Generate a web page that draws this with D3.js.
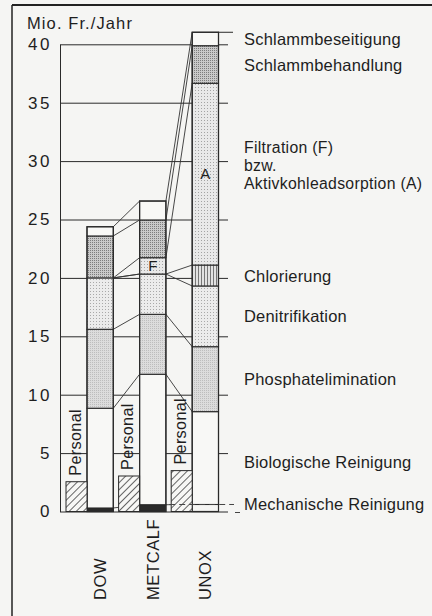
<!DOCTYPE html>
<html>
<head>
<meta charset="utf-8">
<script src="https://cdn.jsdelivr.net/npm/d3@7"></script>
<style>
  html, body { margin: 0; padding: 0; background: #f5f5f3; }
  svg { display: block; }
  text { font-family: "Liberation Sans", Arial, sans-serif; fill: #1e1e1e; }
</style>
</head>
<body>
<svg id="chart" width="432" height="616"></svg>
<script>
// ---------------- data ----------------
const categories = ["DOW", "METCALF", "UNOX"];
const components = [
  "Mechanische Reinigung",
  "Biologische Reinigung",
  "Phosphatelimination",
  "Denitrifikation",
  "Chlorierung",
  "Filtration / Aktivkohleadsorption",
  "Schlammbehandlung",
  "Schlammbeseitigung"
];
// cost per component (Mio. Fr./Jahr), bottom to top
const dowCosts     = [0.30, 8.54, 6.76, 4.40, 0.00, 0.00, 3.59, 0.79];
const metcalfCosts = [0.58, 11.17, 5.13, 3.45, 0.00, 1.40, 3.23, 1.62];
const unoxCosts    = [0.60, 7.95, 5.56, 5.20, 1.79, 15.56, 3.22, 1.15];
const personalCosts = [2.55, 3.04, 3.50];
const filterMarks = ["", "F", "A"];
const componentLabels = [
  ["Mechanische Reinigung"],
  ["Biologische Reinigung"],
  ["Phosphatelimination"],
  ["Denitrifikation"],
  ["Chlorierung"],
  ["Filtration (F)", "bzw.", "Aktivkohleadsorption (A)"],
  ["Schlammbehandlung"],
  ["Schlammbeseitigung"]
];
const yTicks = [0, 5, 10, 15, 20, 25, 30, 35, 40];
const yTitle = "Mio. Fr./Jahr";
const personalLabel = "Personal";

// ---------------- build table ----------------
const costRows = [dowCosts, metcalfCosts, unoxCosts];
const table = categories.map((c, i) => {
  const row = { cat: c };
  components.forEach((k, j) => row[k] = costRows[i][j]);
  return row;
});
const series = d3.stack().keys(components)(table);

// ---------------- layout ----------------
const svg = d3.select("#chart");
const y = d3.scaleLinear().domain([0, 40]).range([511.5, 44.3]);
const x = d3.scaleBand().domain(categories).range([87, 218.5]).paddingInner(0.5).paddingOuter(0);
const bw = x.bandwidth();
const personalW = 21;
const axisX = 60, gridRight = 228;

svg.append("rect").attr("width", 432).attr("height", 616).attr("fill", "#f5f5f3");

// ---------------- patterns ----------------
const defs = svg.append("defs");
function dotPattern(id, size, bg, dot, pts) {
  const p = defs.append("pattern").attr("id", id).attr("patternUnits", "userSpaceOnUse")
    .attr("width", size).attr("height", size);
  p.append("rect").attr("width", size).attr("height", size).attr("fill", bg);
  pts.forEach(([px, py]) => p.append("rect").attr("x", px).attr("y", py)
    .attr("width", 1).attr("height", 1).attr("fill", dot));
}
dotPattern("phos", 2, "#dcdcdc", "#bdbdbd", [[0, 0]]);
dotPattern("denit", 3, "#ececec", "#a9a9a9", [[0, 0]]);
dotPattern("filt", 3, "#e9e9e9", "#a3a3a3", [[0, 0]]);
dotPattern("treat", 2, "#c9c9c9", "#7c7c7c", [[0, 0]]);
(function () {
  const p = defs.append("pattern").attr("id", "chlor").attr("patternUnits", "userSpaceOnUse")
    .attr("width", 3).attr("height", 3);
  p.append("rect").attr("width", 3).attr("height", 3).attr("fill", "#e2e2e2");
  p.append("rect").attr("width", 1).attr("height", 3).attr("fill", "#777");
  const h = defs.append("pattern").attr("id", "hatch").attr("patternUnits", "userSpaceOnUse")
    .attr("width", 5).attr("height", 5).attr("patternTransform", "rotate(45)");
  h.append("rect").attr("width", 5).attr("height", 5).attr("fill", "#f7f7f5");
  h.append("line").attr("x1", 0.5).attr("x2", 0.5).attr("y1", 0).attr("y2", 5)
    .attr("stroke", "#555").attr("stroke-width", 0.9);
})();
const fills = ["#2a2a2a", "#f8f8f6", "url(#phos)", "url(#denit)", "url(#chlor)", "url(#filt)", "url(#treat)", "#f8f8f6"];

// ---------------- frame ----------------
svg.append("line").attr("x1", 12).attr("x2", 432).attr("y1", 5).attr("y2", 5)
  .attr("stroke", "#222").attr("stroke-width", 2);
svg.append("line").attr("x1", 12).attr("x2", 12).attr("y1", 5).attr("y2", 616)
  .attr("stroke", "#222").attr("stroke-width", 1.5);

// ---------------- axis + grid ----------------
const axis = d3.axisLeft(y).tickValues(yTicks).tickSizeInner(-(gridRight - axisX)).tickSizeOuter(0).tickPadding(8);
const gAxis = svg.append("g").attr("transform", `translate(${axisX},0)`).call(axis);
gAxis.selectAll("path, line").attr("stroke", "#2a2a2a").attr("stroke-width", 1);
gAxis.selectAll("text").attr("font-size", 17).attr("letter-spacing", 2.6)
  .attr("font-family", "'Liberation Sans', Arial, sans-serif").attr("fill", "#1e1e1e");

svg.append("text").attr("x", 27).attr("y", 29).attr("font-size", 16.5).attr("letter-spacing", 1.1)
  .text(yTitle);

// ---------------- connecting lines ----------------
const tops = categories.map((c, i) => series.map(s => s[i][1]));
const gConn = svg.append("g").attr("stroke", "#333").attr("stroke-width", 0.9).attr("fill", "none");
for (let i = 0; i < categories.length - 1; i++) {
  tops[i].forEach((v, k) => {
    gConn.append("line")
      .attr("x1", x(categories[i]) + bw).attr("y1", y(v))
      .attr("x2", x(categories[i + 1])).attr("y2", y(tops[i + 1][k]));
  });
}

// ---------------- stacked bars ----------------
const gBars = svg.append("g");
series.forEach((s, k) => {
  gBars.selectAll(null).data(s).join("rect")
    .filter(d => d[1] - d[0] > 0)
    .attr("x", d => x(d.data.cat))
    .attr("width", bw)
    .attr("y", d => y(d[1]))
    .attr("height", d => y(d[0]) - y(d[1]))
    .attr("fill", d => (k === 0 && d.data.cat === "UNOX") ? "none" : fills[k])
    .attr("stroke", d => (k === 0 && d.data.cat === "UNOX") ? "none" : "#2a2a2a")
    .attr("stroke-width", 1.1);
});
// overall outline of each bar
gBars.selectAll(null).data(categories).join("rect")
  .attr("x", c => x(c)).attr("width", bw)
  .attr("y", (c, i) => y(tops[i][tops[i].length - 1]))
  .attr("height", (c, i) => y(0) - y(tops[i][tops[i].length - 1]))
  .attr("fill", "none").attr("stroke", "#2a2a2a").attr("stroke-width", 1.2);

// right-hand tick at the last bar top
const lastI = categories.length - 1;
svg.append("line")
  .attr("x1", x(categories[lastI]) + bw).attr("x2", 233)
  .attr("y1", y(tops[lastI][tops[lastI].length - 1])).attr("y2", y(tops[lastI][tops[lastI].length - 1]))
  .attr("stroke", "#2a2a2a").attr("stroke-width", 1);

// F / A marks
const filtIdx = 5;
categories.forEach((c, i) => {
  if (!filterMarks[i]) return;
  const seg = series[filtIdx][i];
  svg.append("text").attr("x", x(c) + bw / 2).attr("y", y((seg[0] + seg[1]) / 2) + 5)
    .attr("text-anchor", "middle").attr("font-size", 15).text(filterMarks[i]);
});

// ---------------- Personal bars ----------------
const gPers = svg.append("g");
gPers.selectAll("rect").data(personalCosts).join("rect")
  .attr("x", (d, i) => x(categories[i]) - personalW)
  .attr("width", personalW)
  .attr("y", d => y(d))
  .attr("height", d => y(0) - y(d))
  .attr("fill", "url(#hatch)").attr("stroke", "#2a2a2a").attr("stroke-width", 1);
gPers.selectAll("text").data(personalCosts).join("text")
  .attr("transform", (d, i) => `translate(${x(categories[i]) - personalW / 2 + 4},${y(d) - 6}) rotate(-90)`)
  .attr("font-size", 16.3).attr("letter-spacing", 0.3).text(personalLabel);

// ---------------- mechanische (UNOX dashed) ----------------
const mechTop = series[0][lastI][1];
svg.append("line").attr("x1", x(categories[lastI]) - personalW - 2).attr("x2", 234)
  .attr("y1", y(mechTop)).attr("y2", y(mechTop))
  .attr("stroke", "#444").attr("stroke-width", 1).attr("stroke-dasharray", "6,4");
svg.append("line").attr("x1", 235).attr("x2", 240).attr("y1", y(0) + 1).attr("y2", y(0) + 1)
  .attr("stroke", "#444").attr("stroke-width", 1);

// ---------------- category labels ----------------
svg.selectAll(".cat").data(categories).join("text").attr("class", "cat")
  .attr("transform", c => `translate(${x(c) + bw / 2 + 6},600) rotate(-90)`)
  .attr("font-size", 16.5).attr("letter-spacing", 0.6).text(c => c);

// ---------------- component labels (at UNOX segments) ----------------
const gLab = svg.append("g");
componentLabels.forEach((lines, k) => {
  const seg = series[k][lastI];
  let mid = k === 0 ? seg[1] : (k === 1 ? seg[1] / 2 : (seg[0] + seg[1]) / 2);
  const multi = lines.length > 1;
  const yc = y(mid) - (multi ? 9 : 0);
  const step = 18;
  lines.forEach((t, j) => {
    gLab.append("text").attr("x", 244)
      .attr("y", yc + 6 + (j - (lines.length - 1) / 2) * step)
      .attr("font-size", multi ? 15.8 : 16.5).attr("letter-spacing", multi ? 0.3 : 0.2).text(t);
  });
});
</script>
</body>
</html>
